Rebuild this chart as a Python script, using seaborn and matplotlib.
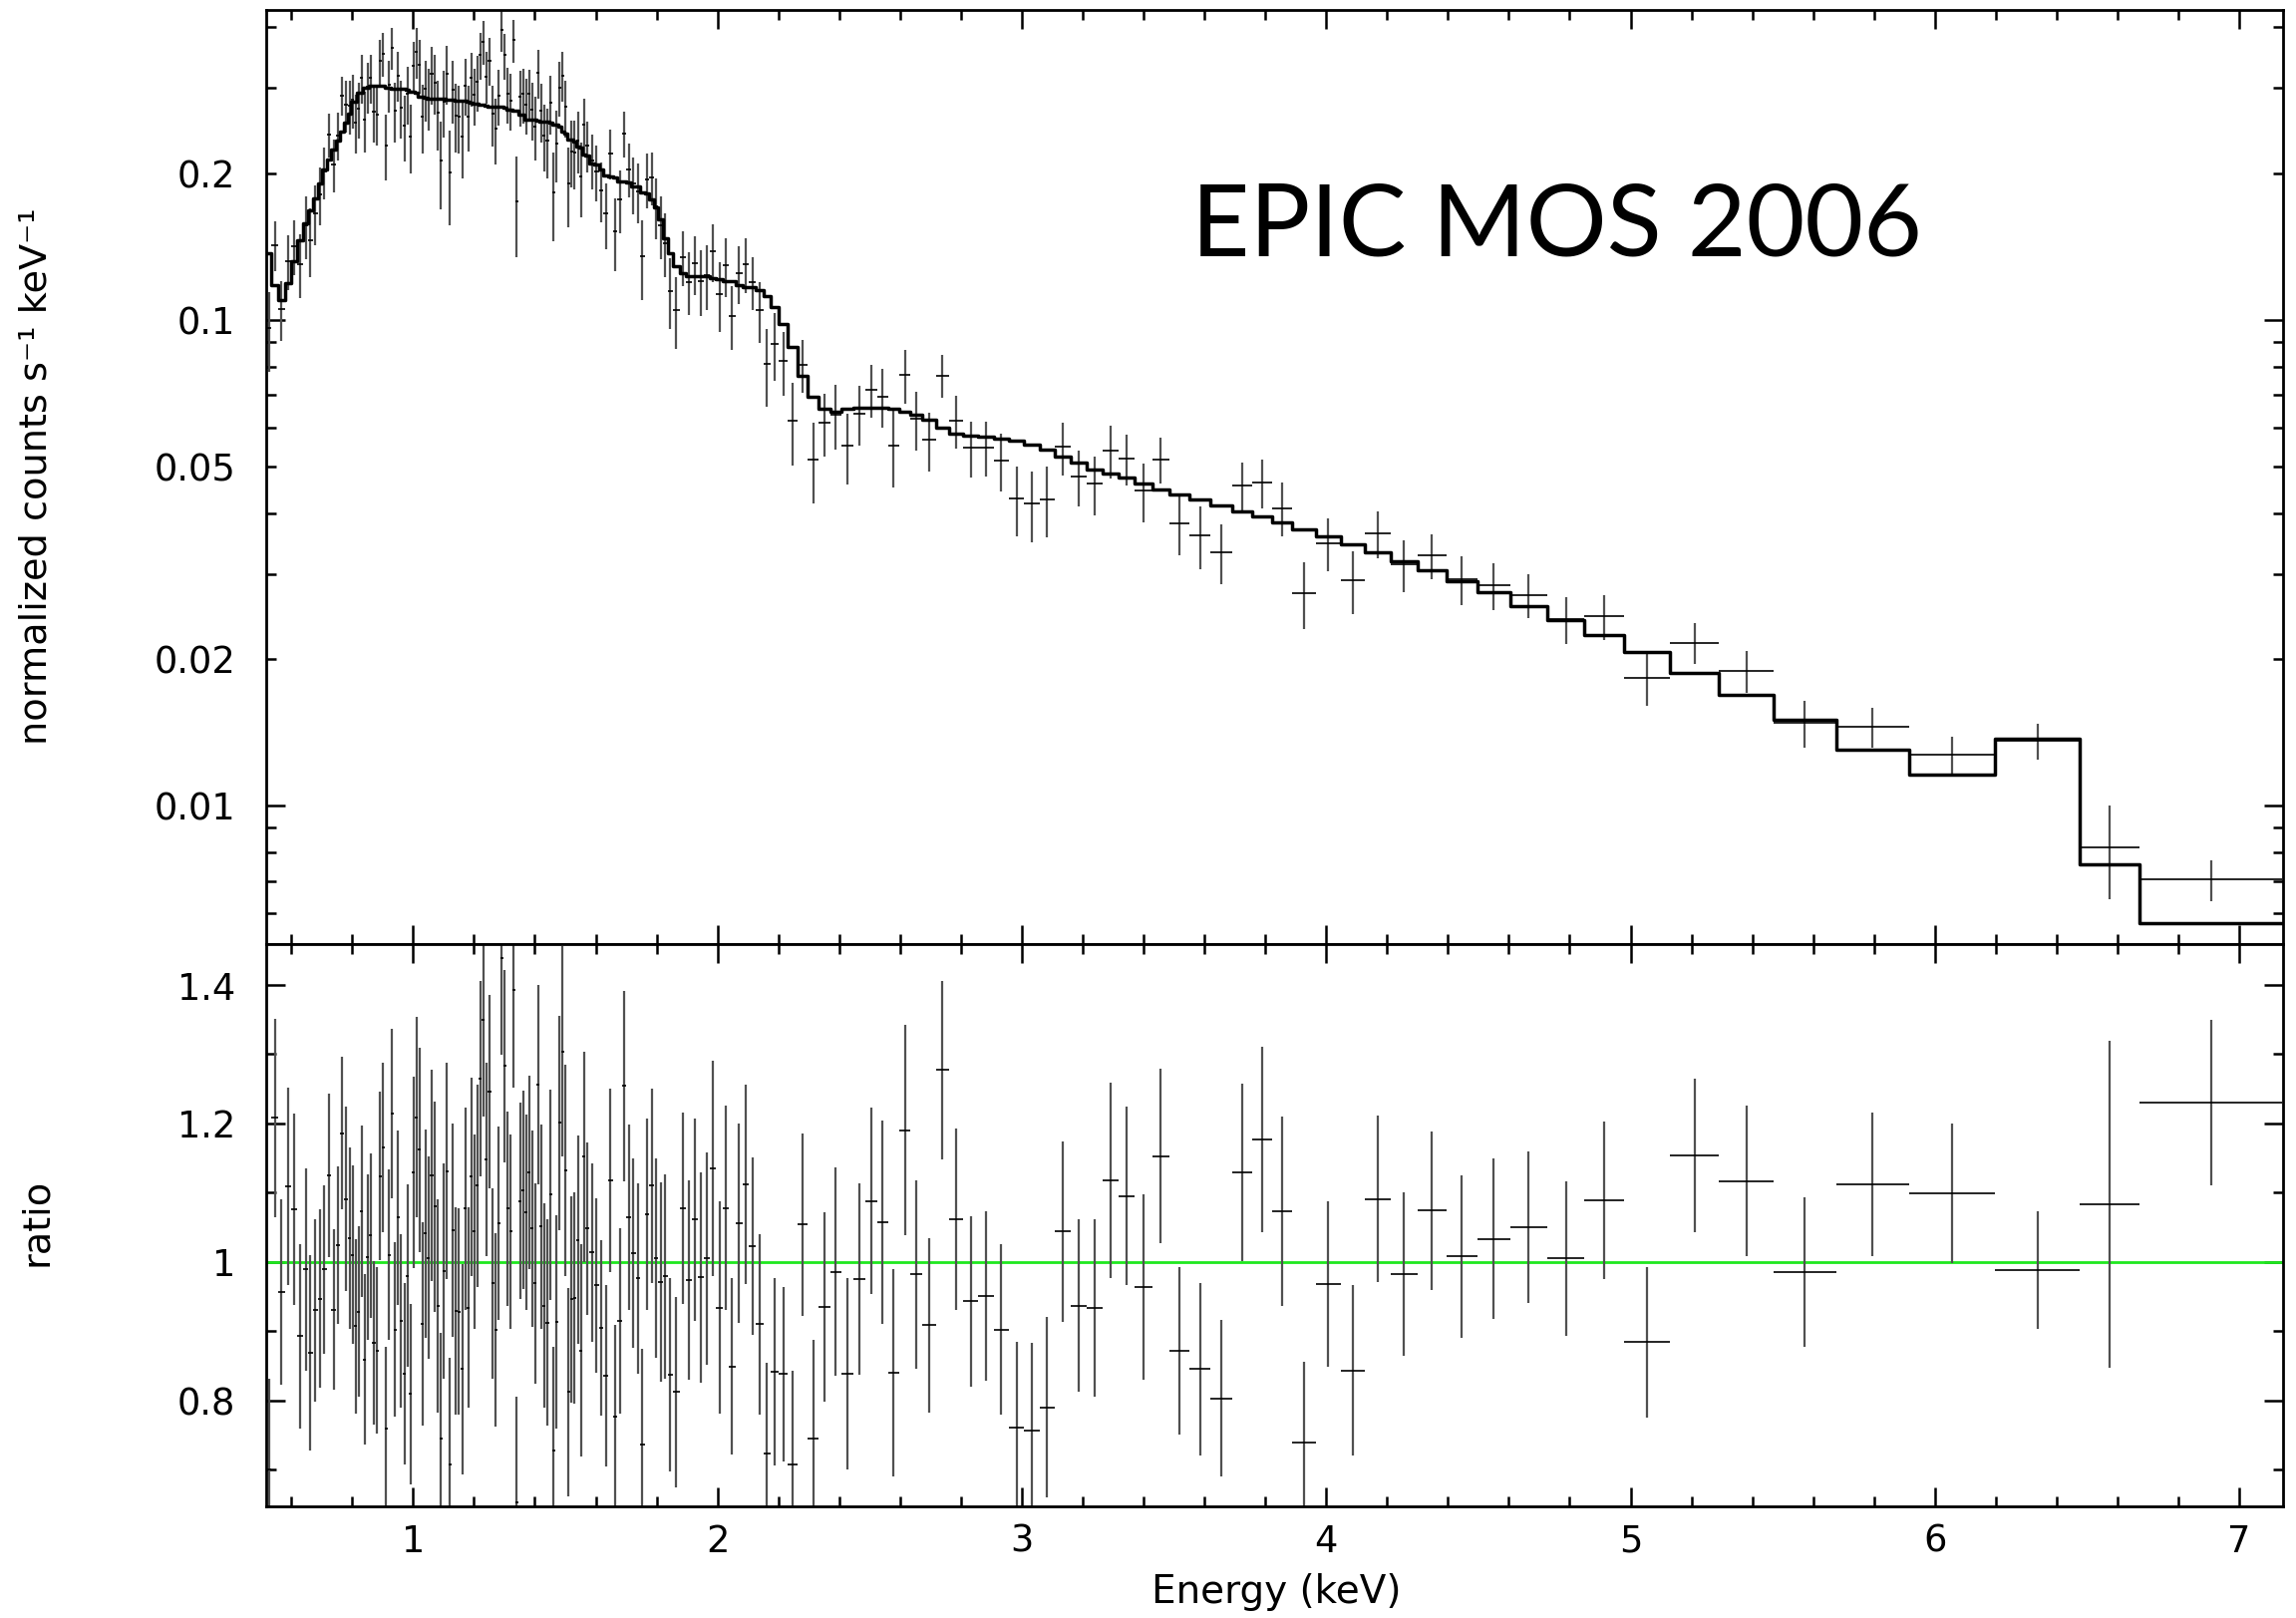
import numpy as np
import matplotlib
matplotlib.use("Agg")
import matplotlib.pyplot as plt
import seaborn as sns
from matplotlib.ticker import FixedLocator, MultipleLocator, FuncFormatter, LogLocator

# ---------------- data ----------------
# channel (bin) edges in keV
bin_edges = [
    0.517, 0.535, 0.556, 0.578, 0.600, 0.620, 0.639, 0.655, 0.670, 0.686, 0.700, 0.716,
    0.731, 0.746, 0.761, 0.774, 0.786, 0.796,
    0.806, 0.816, 0.826, 0.836, 0.846, 0.856, 0.866, 0.876, 0.886, 0.896,
    0.906, 0.916, 0.926, 0.936, 0.946, 0.956, 0.966, 0.976, 0.986, 0.996,
    1.006, 1.016, 1.026, 1.036, 1.046, 1.056, 1.066, 1.076, 1.086, 1.096,
    1.106, 1.116, 1.126, 1.136, 1.146, 1.156, 1.166, 1.176, 1.186, 1.196,
    1.206, 1.216, 1.226, 1.236, 1.246, 1.256, 1.266, 1.276, 1.286, 1.296,
    1.306, 1.316, 1.326, 1.336, 1.346, 1.356, 1.366, 1.376, 1.386, 1.396,
    1.406, 1.416, 1.426, 1.436, 1.446, 1.456, 1.466, 1.476, 1.486, 1.496,
    1.506, 1.516, 1.526, 1.536, 1.546, 1.556, 1.566,
    1.580, 1.595, 1.611, 1.626, 1.641, 1.656, 1.671, 1.686, 1.701, 1.716,
    1.731, 1.746, 1.761, 1.776, 1.791, 1.806, 1.821, 1.836, 1.854, 1.875,
    1.895, 1.915, 1.935, 1.956, 1.976, 1.996, 2.016, 2.037, 2.059, 2.082,
    2.104, 2.127, 2.151, 2.175, 2.201, 2.232, 2.264, 2.297, 2.333, 2.370,
    2.408, 2.447, 2.487, 2.525, 2.561, 2.597, 2.634, 2.673, 2.717, 2.762,
    2.808, 2.857, 2.907, 2.958, 3.008, 3.059, 3.108, 3.160, 3.214, 3.267,
    3.319, 3.371, 3.428, 3.486, 3.552, 3.618, 3.690, 3.757, 3.822, 3.889,
    3.967, 4.047, 4.127, 4.211, 4.300, 4.395, 4.497, 4.604, 4.725, 4.849,
    4.980, 5.130, 5.290, 5.471, 5.675, 5.915, 6.196, 6.477, 6.673, 7.141,
]

# data / model ratio per bin
ratio = [
    0.701, 1.208, 0.956, 1.109, 1.076, 0.893, 0.989, 0.869, 0.930, 0.947, 0.989, 1.125,
    0.931, 1.024, 1.186, 1.091, 1.035,
    1.010, 0.907, 0.928, 1.073, 0.859, 1.007, 1.038, 0.883, 0.872, 1.124,
    1.165, 0.760, 1.010, 1.214, 0.902, 1.064, 0.915, 0.838, 0.980, 0.809,
    1.129, 1.209, 1.162, 0.910, 1.041, 1.006, 1.125, 1.080, 0.936, 0.745,
    0.987, 1.131, 0.707, 1.046, 0.929, 0.928, 0.845, 1.077, 0.934, 1.123,
    1.044, 1.110, 1.265, 1.350, 1.148, 1.246, 0.969, 0.902, 1.056, 1.439,
    1.283, 1.077, 1.044, 1.393, 0.653, 1.088, 1.104, 1.072, 1.129, 1.048,
    0.969, 1.256, 1.051, 0.937, 0.912, 1.097, 0.727, 0.914, 1.201, 1.304,
    1.132, 0.812, 0.946, 0.948, 1.032, 0.872, 1.152,
    1.048, 1.014, 0.966, 0.905, 0.835, 1.118, 0.776, 0.915, 1.254, 1.064,
    1.013, 0.976, 0.737, 1.069, 1.110, 1.006, 0.971, 0.979, 0.837, 0.812,
    1.077, 0.974, 1.061, 0.978, 1.005, 1.135, 0.934, 1.078, 0.849, 1.056,
    1.112, 1.023, 0.910, 0.723, 0.841, 0.838, 0.707, 1.054, 0.745, 0.935,
    0.986, 0.838, 0.975, 1.088, 1.057, 0.840, 1.190, 0.982, 0.909, 1.277,
    1.062, 0.943, 0.951, 0.902, 0.761, 0.757, 0.790, 1.044, 0.937, 0.934,
    1.118, 1.095, 0.964, 1.153, 0.872, 0.845, 0.803, 1.129, 1.177, 1.073,
    0.739, 0.968, 0.843, 1.091, 0.982, 1.074, 1.008, 1.033, 1.050, 1.005,
    1.089, 0.884, 1.154, 1.117, 0.985, 1.112, 1.099, 0.988, 1.083, 1.230,
]

# 1-sigma error on the ratio per bin
ratio_err = [
    0.130, 0.143, 0.134, 0.143, 0.138, 0.133, 0.146, 0.141, 0.132, 0.129, 0.122, 0.118,
    0.116, 0.114, 0.110, 0.133, 0.131,
    0.129, 0.126, 0.123, 0.124, 0.123, 0.120, 0.119, 0.118, 0.120, 0.122,
    0.122, 0.117, 0.123, 0.122, 0.126, 0.126, 0.125, 0.131, 0.132, 0.131,
    0.138, 0.145, 0.148, 0.147, 0.150, 0.146, 0.152, 0.152, 0.154, 0.153,
    0.156, 0.156, 0.155, 0.154, 0.150, 0.149, 0.152, 0.146, 0.145, 0.143,
    0.140, 0.146, 0.141, 0.140, 0.139, 0.139, 0.138, 0.140, 0.140, 0.140,
    0.139, 0.140, 0.140, 0.141, 0.153, 0.142, 0.143, 0.141, 0.140, 0.142,
    0.145, 0.144, 0.147, 0.148, 0.149, 0.152, 0.151, 0.154, 0.155, 0.152,
    0.153, 0.151, 0.149, 0.153, 0.150, 0.153, 0.152,
    0.125, 0.129, 0.126, 0.127, 0.131, 0.132, 0.133, 0.134, 0.137, 0.134,
    0.137, 0.137, 0.137, 0.138, 0.140, 0.144, 0.144, 0.148, 0.139, 0.137,
    0.138, 0.144, 0.146, 0.152, 0.153, 0.156, 0.153, 0.148, 0.127, 0.144,
    0.144, 0.128, 0.130, 0.131, 0.135, 0.126, 0.136, 0.132, 0.142, 0.137,
    0.150, 0.138, 0.138, 0.135, 0.147, 0.150, 0.152, 0.136, 0.126, 0.129,
    0.131, 0.123, 0.122, 0.123, 0.123, 0.126, 0.130, 0.130, 0.124, 0.128,
    0.141, 0.129, 0.134, 0.126, 0.121, 0.125, 0.113, 0.128, 0.134, 0.137,
    0.117, 0.120, 0.123, 0.120, 0.118, 0.114, 0.117, 0.116, 0.109, 0.112,
    0.114, 0.109, 0.111, 0.109, 0.108, 0.104, 0.101, 0.085, 0.236, 0.120,
]

# folded model (normalized counts s^-1 keV^-1) per bin
model = [
    0.137, 0.118, 0.110, 0.119, 0.132, 0.146, 0.158, 0.168, 0.178, 0.191, 0.204, 0.214,
    0.224, 0.234, 0.244, 0.254, 0.266,
    0.281, 0.281, 0.293, 0.293, 0.300, 0.300, 0.303, 0.303, 0.303, 0.303,
    0.303, 0.301, 0.301, 0.299, 0.299, 0.299, 0.299, 0.299, 0.298, 0.295,
    0.295, 0.294, 0.288, 0.288, 0.287, 0.285, 0.285, 0.285, 0.285, 0.285,
    0.285, 0.284, 0.284, 0.284, 0.283, 0.282, 0.282, 0.282, 0.281, 0.280,
    0.278, 0.278, 0.277, 0.277, 0.276, 0.274, 0.274, 0.274, 0.274, 0.274,
    0.273, 0.271, 0.271, 0.270, 0.269, 0.264, 0.264, 0.258, 0.258, 0.258,
    0.258, 0.257, 0.256, 0.256, 0.256, 0.255, 0.252, 0.252, 0.250, 0.244,
    0.242, 0.235, 0.235, 0.233, 0.227, 0.226, 0.219,
    0.218, 0.210, 0.209, 0.204, 0.198, 0.197, 0.196, 0.193, 0.193, 0.192,
    0.188, 0.188, 0.183, 0.182, 0.177, 0.170, 0.161, 0.147, 0.137, 0.129,
    0.125, 0.123, 0.123, 0.123, 0.123, 0.122, 0.121, 0.120, 0.120, 0.118,
    0.117, 0.117, 0.115, 0.112, 0.106, 0.098, 0.0878, 0.0767, 0.0693, 0.0656,
    0.0648, 0.0656, 0.0658, 0.0659, 0.0658, 0.0656, 0.0646, 0.0637, 0.0622, 0.0601,
    0.0584, 0.0578, 0.0574, 0.0569, 0.0563, 0.0553, 0.0541, 0.0524, 0.0508, 0.0492,
    0.0482, 0.0473, 0.0461, 0.0448, 0.0437, 0.0426, 0.0414, 0.0404, 0.0393, 0.0382,
    0.0371, 0.0359, 0.0345, 0.0333, 0.0319, 0.0305, 0.0290, 0.0275, 0.0258, 0.0241,
    0.0225, 0.0207, 0.01876, 0.01694, 0.01504, 0.01305, 0.01157, 0.01375, 0.00758, 0.00573,
]

x_ticks = [1, 2, 3, 4, 5, 6, 7]
counts_tick_labels = {0.01: "0.01", 0.02: "0.02", 0.05: "0.05", 0.1: "0.1", 0.2: "0.2"}
ratio_ticks = [0.8, 1.0, 1.2, 1.4]
title_text = "EPIC MOS 2006"

# ---------------- derived quantities ----------------
edges = np.asarray(bin_edges)
lo, hi = edges[:-1], edges[1:]
centre = 0.5 * (lo + hi)
r = np.asarray(ratio)
re = np.asarray(ratio_err)
m = np.asarray(model)
counts = r * m            # data = ratio * model
counts_err = re * m

# ---------------- styling ----------------
sns.set_theme(style="ticks")
plt.rcParams["font.family"] = ["DejaVu Sans"]
plt.rcParams["axes.linewidth"] = 2.0
for key in ("text.color", "axes.labelcolor", "xtick.color", "ytick.color",
            "axes.edgecolor", "xtick.labelcolor", "ytick.labelcolor"):
    plt.rcParams[key] = "black"

fig = plt.figure(figsize=(23.03, 16.23), dpi=100)
fig.patch.set_facecolor("white")
ax1 = fig.add_axes([0.1159, 0.4165, 0.8785, 0.5773])
ax2 = fig.add_axes([0.1159, 0.0690, 0.8785, 0.3475], sharex=ax1)

VCOL = "#505050"
TICKFS = 26.5

# ---- top panel: spectrum ----
ax1.vlines(centre, counts - counts_err, counts + counts_err, color=VCOL, lw=1.6, zorder=2)
ax1.hlines(counts, lo, hi, color="black", lw=1.2, zorder=3)
sns.lineplot(x=edges, y=np.append(m, m[-1]), drawstyle="steps-post", color="black",
             lw=2.5, ax=ax1, estimator=None, sort=False, zorder=4)
ax1.set_yscale("log")
ax1.set_ylim(0.00519, 0.434)
ax1.yaxis.set_major_locator(FixedLocator([0.01, 0.1]))
ax1.yaxis.set_minor_locator(LogLocator(base=10, subs=np.arange(2, 10), numticks=50))
fmt_counts = FuncFormatter(lambda v, p: counts_tick_labels.get(round(v, 4), ""))
ax1.yaxis.set_major_formatter(fmt_counts)
ax1.yaxis.set_minor_formatter(fmt_counts)

# ---- bottom panel: ratio ----
ax2.axhline(1.0, color="#1ee81e", lw=2.0, zorder=1)
ax2.vlines(centre, r - re, r + re, color=VCOL, lw=1.6, zorder=2)
ax2.hlines(r, lo, hi, color="black", lw=1.2, zorder=3)
ax2.set_ylim(0.647, 1.459)
ax2.yaxis.set_major_locator(FixedLocator(ratio_ticks))
ax2.yaxis.set_minor_locator(MultipleLocator(0.1))
ax2.yaxis.set_major_formatter(FuncFormatter(lambda v, p: "%g" % round(v, 2)))

# ---- shared x ----
ax2.set_xlim(0.517, 7.144)
ax2.xaxis.set_major_locator(FixedLocator(x_ticks))
ax2.xaxis.set_minor_locator(MultipleLocator(0.2))
ax2.xaxis.set_major_formatter(FuncFormatter(lambda v, p: "%d" % round(v)))

for ax in (ax1, ax2):
    ax.set_xlabel("")
    ax.set_ylabel("")
    ax.tick_params(which="major", direction="in", length=13.5, width=1.8,
                   top=True, right=True, labelsize=TICKFS, color="black",
                   labelcolor="black")
    ax.tick_params(which="minor", direction="in", length=7.2, width=1.8,
                   top=True, right=True, labelsize=TICKFS, color="black",
                   labelcolor="black")
    ax.tick_params(axis="y", which="both", pad=22)
    ax.tick_params(axis="x", which="both", pad=12)
    for s in ax.spines.values():
        s.set_color("black")
        s.set_linewidth(2.0)
ax1.tick_params(axis="x", which="both", labelbottom=False)

# ---- text ----
fig.text(37 / 2303, 1 - 478 / 1623, "normalized counts s\u207b\u00b9 keV\u207b\u00b9",
         rotation=90, ha="center", va="center", fontsize=27.5, color="black")
fig.text(37 / 2303, 1 - 1226 / 1623, "ratio", rotation=90, ha="center", va="center",
         fontsize=27.5, color="black")
fig.text(1280 / 2303, 1 - 1597 / 1623, "Energy (keV)", ha="center", va="center",
         fontsize=28, color="black")
ax1.text(1561 / 2303, 1 - 228 / 1623, title_text, transform=fig.transFigure,
         ha="center", va="center", fontsize=73, color="black",
         family=["Lato", "DejaVu Sans"])

fig.savefig("out.png", dpi=100, facecolor="white")
